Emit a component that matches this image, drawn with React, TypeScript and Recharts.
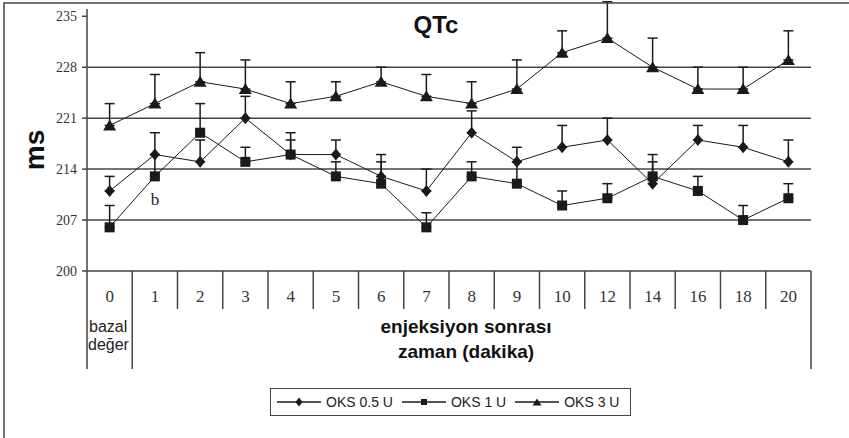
import React from 'react';
import { LineChart, Line, XAxis, YAxis, ReferenceLine, ErrorBar, Legend, LabelList } from 'recharts';

// minutes after injection (0 = baseline)
const minutes = ['0', '1', '2', '3', '4', '5', '6', '7', '8', '9', '10', '12', '14', '16', '18', '20'];

const oks05 = [211, 216, 215, 221, 216, 216, 213, 211, 219, 215, 217, 218, 212, 218, 217, 215];
const oks05Err = [2, 3, 3, 3, 3, 2, 3, 3, 3, 2, 3, 3, 3, 2, 3, 3];

const oks1 = [206, 213, 219, 215, 216, 213, 212, 206, 213, 212, 209, 210, 213, 211, 207, 210];
const oks1Err = [3, 3, 4, 2, 2, 2, 3, 2, 2, 3, 2, 2, 3, 2, 2, 2];

const oks3 = [220, 223, 226, 225, 223, 224, 226, 224, 223, 225, 230, 232, 228, 225, 225, 229];
const oks3Err = [3, 4, 4, 4, 3, 2, 2, 3, 3, 4, 3, 5, 4, 3, 3, 4];

const yTicks = [200, 207, 214, 221, 228, 235];
const gridValues = [207, 214, 221, 228];

const data = minutes.map((m, i) => ({
  minute: m,
  oks05: oks05[i],
  oks05Err: [0, oks05Err[i]],
  oks1: oks1[i],
  oks1Err: [0, oks1Err[i]],
  oks3: oks3[i],
  oks3Err: [0, oks3Err[i]],
}));

const W = 849;
const H = 438;
const PLOT_LEFT = 87;
const PLOT_RIGHT = 811;
const HALF_BAND = (PLOT_RIGHT - PLOT_LEFT) / minutes.length / 2;
const SANS = '"Liberation Sans", Arial, sans-serif';
const SERIF = '"Liberation Serif", "Times New Roman", serif';
const INK = '#1a1a1a';
const RULE = '#444';

const diamond = (cx: number, cy: number, r: number) =>
  `${cx},${cy - r - 1} ${cx + r},${cy} ${cx},${cy + r + 1} ${cx - r},${cy}`;
const triangle = (cx: number, cy: number, r: number) =>
  `${cx},${cy - r} ${cx + r + 0.5},${cy + r - 1} ${cx - r - 0.5},${cy + r - 1}`;

const renderDiamond = (p: any) => (
  <polygon key={`dm-${p.index}`} points={diamond(p.cx, p.cy, 5)} fill={INK} />
);
const renderSquare = (p: any) => (
  <rect key={`sq-${p.index}`} x={p.cx - 5} y={p.cy - 5} width={10} height={10} fill={INK} />
);
const renderTriangle = (p: any) => (
  <polygon key={`tr-${p.index}`} points={triangle(p.cx, p.cy, 6)} fill={INK} />
);

const MinuteTick = (props: any) => {
  const { x, y, payload, index } = props;
  const last = index === minutes.length - 1;
  const long = index <= 1;
  return (
    <g>
      <line x1={x - HALF_BAND} y1={y} x2={x - HALF_BAND} y2={y + (long ? 98 : 38)} stroke={RULE} strokeWidth={1.5} />
      {last && <line x1={x + HALF_BAND} y1={y} x2={x + HALF_BAND} y2={y + 98} stroke={RULE} strokeWidth={1.5} />}
      <text x={x} y={y + 31} textAnchor="middle" fontFamily={SERIF} fontSize={17} fill="#333">
        {payload.value}
      </text>
      {index === 0 && (
        <>
          <text x={x - HALF_BAND + 2} y={y + 61} fontFamily={SANS} fontSize={16} fill="#222">bazal</text>
          <text x={x - HALF_BAND + 1} y={y + 79} fontFamily={SANS} fontSize={16} fill="#222">değer</text>
        </>
      )}
    </g>
  );
};

const legendIcon = (key: string) => {
  if (key === 'oks05') return <polygon points={diamond(22, 6, 3.5)} fill={INK} />;
  if (key === 'oks1') return <rect x={19} y={3} width={6} height={6} fill={INK} />;
  return <polygon points={triangle(22, 6.5, 4)} fill={INK} />;
};

const renderLegend = (props: any) => {
  const { payload } = props;
  return (
    <div
      style={{
        display: 'flex',
        alignItems: 'center',
        boxSizing: 'border-box',
        width: 361,
        height: 28,
        border: `1.5px solid ${RULE}`,
        paddingLeft: 6,
        fontFamily: SANS,
        fontSize: 14,
        color: '#222',
        background: '#fff',
      }}
    >
      {(payload || []).map((entry: any) => (
        <div key={entry.dataKey} style={{ display: 'flex', alignItems: 'center', marginRight: 9 }}>
          <svg width={44} height={12}>
            <line x1={0} y1={6} x2={44} y2={6} stroke={INK} strokeWidth={1.3} />
            {legendIcon(entry.dataKey)}
          </svg>
          <span style={{ marginLeft: 5, whiteSpace: 'nowrap' }}>{entry.value}</span>
        </div>
      ))}
    </div>
  );
};

const renderB = (p: any) =>
  p.index === 1 ? (
    <text key="b-note" x={p.x} y={p.y + 29} textAnchor="middle" fontFamily={SERIF} fontSize={17} fill="#222">
      b
    </text>
  ) : null;

export default function App() {
  return (
    <div style={{ position: 'absolute', left: 0, top: 0, width: W, height: H, overflow: 'hidden', background: '#fff' }}>
      <LineChart width={W} height={H} data={data} margin={{ top: 9, right: W - PLOT_RIGHT, bottom: 0, left: 0 }}>
        <XAxis
          dataKey="minute"
          scale="band"
          interval={0}
          height={167}
          tickSize={0}
          tickMargin={0}
          tickLine={false}
          axisLine={{ stroke: RULE, strokeWidth: 1.5 }}
          tick={<MinuteTick />}
        />
        <YAxis
          type="number"
          domain={[200, 236]}
          ticks={yTicks}
          allowDataOverflow
          interval={0}
          width={PLOT_LEFT}
          tickSize={5}
          tickMargin={5}
          axisLine={{ stroke: RULE, strokeWidth: 1.5 }}
          tickLine={{ stroke: RULE, strokeWidth: 1.5 }}
          tick={{ fontFamily: SERIF, fontSize: 14, fill: '#333' }}
        />
        {gridValues.map((v) => (
          <ReferenceLine key={v} y={v} stroke={RULE} strokeWidth={1.5} />
        ))}
        <Line type="linear" dataKey="oks05" name="OKS 0.5 U" stroke={INK} strokeWidth={1} dot={renderDiamond} activeDot={false} isAnimationActive={false}>
          <ErrorBar dataKey="oks05Err" direction="y" width={5} stroke={INK} strokeWidth={1.5} isAnimationActive={false} />
        </Line>
        <Line type="linear" dataKey="oks1" name="OKS 1 U" stroke={INK} strokeWidth={1} dot={renderSquare} activeDot={false} isAnimationActive={false}>
          <ErrorBar dataKey="oks1Err" direction="y" width={5} stroke={INK} strokeWidth={1.5} isAnimationActive={false} />
          <LabelList dataKey="oks1" content={renderB} />
        </Line>
        <Line type="linear" dataKey="oks3" name="OKS 3 U" stroke={INK} strokeWidth={1} dot={renderTriangle} activeDot={false} isAnimationActive={false}>
          <ErrorBar dataKey="oks3Err" direction="y" width={5} stroke={INK} strokeWidth={1.5} isAnimationActive={false} />
        </Line>
        <Legend
          layout="horizontal"
          verticalAlign="middle"
          align="center"
          wrapperStyle={{ left: 270, top: 388, width: 361, height: 28 }}
          content={renderLegend}
        />
      </LineChart>
      <svg width={W} height={H} style={{ position: 'absolute', left: 0, top: 0, pointerEvents: 'none' }}>
        <rect x={4} y={3} width={900} height={500} fill="none" stroke={RULE} strokeWidth={1.5} />
        <text x={436} y={33} textAnchor="middle" fontFamily={SANS} fontWeight="bold" fontSize={24} fill="#111">
          QTc
        </text>
        <text x={34} y={150} dy="0.35em" textAnchor="middle" transform="rotate(-90 34 150)" fontFamily={SANS} fontWeight="bold" fontSize={28} fill="#111">
          ms
        </text>
        <text x={466} y={333} textAnchor="middle" fontFamily={SANS} fontWeight="bold" fontSize={19} fill="#111">
          enjeksiyon sonrası
        </text>
        <text x={466} y={358} textAnchor="middle" fontFamily={SANS} fontWeight="bold" fontSize={19} fill="#111">
          zaman (dakika)
        </text>
      </svg>
    </div>
  );
}
